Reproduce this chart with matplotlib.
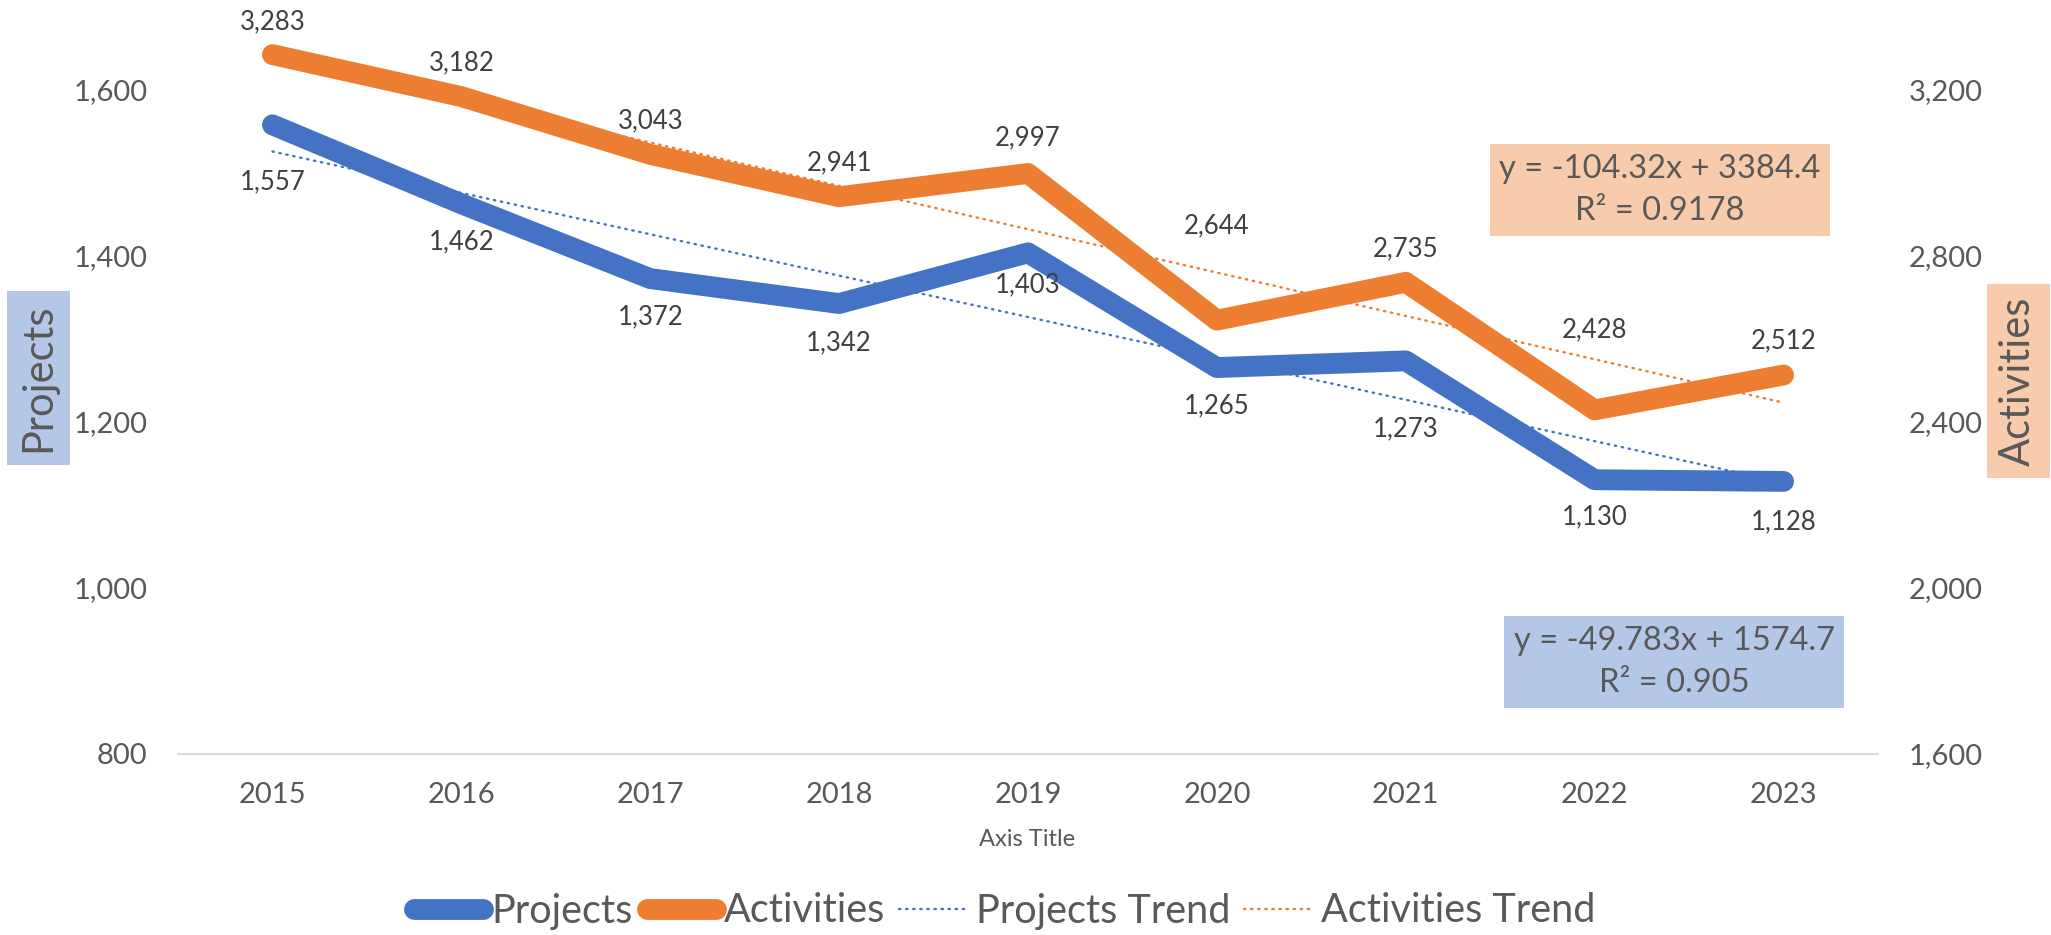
import numpy as np
import matplotlib.pyplot as plt
from matplotlib.lines import Line2D

plt.rcParams['font.family'] = ['Lato', 'DejaVu Sans']

# data
years = ['2015', '2016', '2017', '2018', '2019', '2020', '2021', '2022', '2023']
projects = [1557, 1462, 1372, 1342, 1403, 1265, 1273, 1130, 1128]
activities = [3283, 3182, 3043, 2941, 2997, 2644, 2735, 2428, 2512]
proj_eq = 'y = -49.783x + 1574.7\nR² = 0.905'
act_eq = 'y = -104.32x + 3384.4\nR² = 0.9178'

# label offsets in pixels (labels were nudged by hand in the original)
proj_dy = [-57, -38, -38, -39, -32, -38, -68, -37, -40]
act_dy = [33, 34, 34, 34, 36, 94, 34, 80, 34]

BLUE = '#4472C4'
ORANGE = '#ED7D31'
GREY = '#595959'
DARK = '#404040'

W, H = 2051, 935
fig = plt.figure(figsize=(W / 100, H / 100), dpi=100)
ax = fig.add_axes([178 / W, 1 - 754 / H, 1700 / W, 748 / H])
ax2 = ax.twinx()

x = np.arange(len(years))

# trend lines from linear fit
pp = np.polyfit(x + 1, projects, 1)
pa = np.polyfit(x + 1, activities, 1)

ax.plot(x, projects, color=BLUE, lw=15, solid_capstyle='round', solid_joinstyle='round', zorder=2)
ax.plot(x, np.polyval(pp, x + 1), color=BLUE, lw=1.7, linestyle=(0, (0.6, 2.4)),
        dash_capstyle='round', zorder=3)
ax2.plot(x, activities, color=ORANGE, lw=15, solid_capstyle='round', solid_joinstyle='round', zorder=2)
ax2.plot(x, np.polyval(pa, x + 1), color=ORANGE, lw=1.7, linestyle=(0, (0.6, 2.4)),
         dash_capstyle='round', zorder=3)

for i, v in enumerate(projects):
    ax.annotate(f'{v:,}', (x[i], v), xytext=(0, proj_dy[i]), textcoords='offset pixels',
                ha='center', va='center', fontsize=18.5, color=DARK)
for i, v in enumerate(activities):
    ax2.annotate(f'{v:,}', (x[i], v), xytext=(0, act_dy[i]), textcoords='offset pixels',
                 ha='center', va='center', fontsize=18.5, color=DARK)

ax.set_xlim(-0.5, len(years) - 0.5)
ax.set_ylim(800, 1700)
ax2.set_ylim(1600, 3400)
ax.set_xticks(x)
ax.set_xticklabels(years)
ax.set_yticks([800, 1000, 1200, 1400, 1600])
ax.set_yticklabels([f'{t:,}' for t in [800, 1000, 1200, 1400, 1600]])
ax2.set_yticks([1600, 2000, 2400, 2800, 3200])
ax2.set_yticklabels([f'{t:,}' for t in [1600, 2000, 2400, 2800, 3200]])

for a in (ax, ax2):
    for s in ['top', 'left', 'right']:
        a.spines[s].set_visible(False)
    a.spines['bottom'].set_color('#D9D9D9')
    a.spines['bottom'].set_linewidth(1.5)
    a.tick_params(length=0, labelsize=21, colors=GREY)
ax.tick_params(axis='y', pad=22)
ax2.tick_params(axis='y', pad=22)
ax.tick_params(axis='x', pad=20)
ax2.spines['bottom'].set_visible(False)

fig.text(1027 / W, 1 - 839 / H, 'Axis Title', ha='center', va='center', fontsize=17, color=GREY)

# axis titles with filled boxes
fig.text(38 / W, 1 - 378 / H, 'Projects', rotation=90, ha='center', va='center', fontsize=30,
         color=GREY, bbox=dict(boxstyle='square,pad=0.3', fc='#B4C7E7', ec='none'))
fig.text(2018 / W, 1 - 381 / H, 'Activities', rotation=90, ha='center', va='center', fontsize=30,
         color=GREY, bbox=dict(boxstyle='square,pad=0.3', fc='#F8CBAD', ec='none'))

# trendline equations
fig.text(1660 / W, 1 - 190 / H, act_eq, ha='center', va='center', fontsize=23.5, color=GREY,
         linespacing=1.5, bbox=dict(boxstyle='square,pad=0.3', fc='#F8CBAD', ec='none'))
fig.text(1674 / W, 1 - 662 / H, proj_eq, ha='center', va='center', fontsize=23.5, color=GREY,
         linespacing=1.5, bbox=dict(boxstyle='square,pad=0.3', fc='#B4C7E7', ec='none'))

handles = [
    Line2D([], [], color=BLUE, lw=15, solid_capstyle='round'),
    Line2D([], [], color=ORANGE, lw=15, solid_capstyle='round'),
    Line2D([], [], color=BLUE, lw=1.7, linestyle=(0, (0.6, 2.4)), dash_capstyle='round'),
    Line2D([], [], color=ORANGE, lw=1.7, linestyle=(0, (0.6, 2.4)), dash_capstyle='round'),
]
labels = ['Projects', 'Activities', 'Projects Trend', 'Activities Trend']
leg = fig.legend(handles, labels, loc='center', bbox_to_anchor=(1005 / W, 1 - 911 / H), ncol=4,
                 frameon=False, fontsize=28.5, handlelength=1.75, handletextpad=0.2,
                 columnspacing=0.35, borderpad=0)
for t in leg.get_texts():
    t.set_color(GREY)

fig.savefig('out.png', dpi=100)
